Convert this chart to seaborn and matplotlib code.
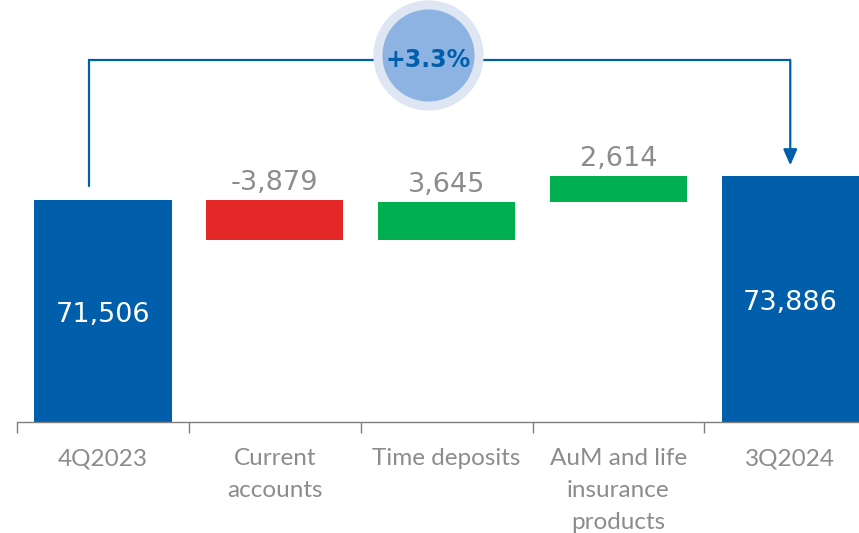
import numpy as np
import matplotlib
matplotlib.use("Agg")
import matplotlib.pyplot as plt
import seaborn as sns

# data
categories = ["4Q2023", "Current\naccounts", "Time deposits", "AuM and life\ninsurance\nproducts", "3Q2024"]
values = [71506, -3879, 3645, 2614, 73886]
is_total = [True, False, False, False, True]
growth_label = "+3.3%"

BLUE = "#005EAA"
RED = "#E32726"
GREEN = "#00B050"
GREY = "#8C8C8C"

sns.set_theme(style="white")
plt.rcParams["font.family"] = ["Lato", "DejaVu Sans"]

# floating bar bottoms for the waterfall
bottoms = []
running = 0
for v, tot in zip(values, is_total):
    if tot:
        bottoms.append(0)
        running = v
    else:
        bottoms.append(running)
        running += v
colors = [BLUE if t else (GREEN if v > 0 else RED) for v, t in zip(values, is_total)]

fig = plt.figure(figsize=(8.59, 5.33), dpi=100)
ax = fig.add_axes([17 / 859, 111 / 533, 1 - 17 / 859, 422 / 533])

sns.barplot(x=categories, y=values, bottom=bottoms, color=BLUE, saturation=1,
            errorbar=None, width=0.8, ax=ax)
for p, c in zip(ax.patches, colors):
    p.set_facecolor(c)
    p.set_edgecolor("none")

ymin, ymax = 49750, 91100
ax.set_ylim(ymin, ymax)
ax.set_xlim(-0.5, 4.4)

# value labels
for i, (v, b, t) in enumerate(zip(values, bottoms, is_total)):
    if t:
        ax.text(i, (ymin + v) / 2 - 400, f"{v:,}", ha="center", va="center",
                color="white", fontsize=19.5, family="DejaVu Sans")
    else:
        top = max(b, b + v)
        ax.annotate(f"{v:,}", (i, top), xytext=(0, 3),
                    textcoords="offset points", ha="center", va="bottom",
                    color=GREY, fontsize=19.5, family="DejaVu Sans")

# growth bracket
y_line = 85230
ax.plot([-0.08, -0.08, 4.0], [72880, y_line, y_line], color=BLUE, lw=1.6,
        clip_on=False, solid_joinstyle="miter")
ax.annotate("", xy=(4.0, 74900), xytext=(4.0, y_line),
            arrowprops=dict(arrowstyle="-|>,head_width=0.35,head_length=0.8",
                            color=BLUE, lw=1.6, shrinkA=0, shrinkB=0))
cx, cy = 1.89, 85700
ax.scatter([cx], [cy], s=6300, color="#DDE6F2", zorder=5, clip_on=False, linewidths=0)
ax.scatter([cx], [cy], s=4400, color="#8DB3E2", zorder=6, clip_on=False, linewidths=0)
ax.text(cx, y_line, growth_label, ha="center", va="center", color=BLUE,
        fontsize=17, fontweight="bold", family="DejaVu Sans", zorder=7)

# axes styling
sns.despine(ax=ax, left=True, top=True, right=True)
ax.spines["bottom"].set_color("#7F7F7F")
ax.spines["bottom"].set_linewidth(1)
ax.set_yticks([])
ax.set_xticks(range(len(categories)))
ax.set_xticklabels(categories, color=GREY, fontsize=17.5, linespacing=1.63, va="top")
ax.set_xticks(np.arange(-0.5, 4, 1), minor=True)
ax.tick_params(axis="x", which="major", length=0, pad=19)
ax.tick_params(axis="x", which="minor", length=8, color="#7F7F7F", width=1, direction="out", bottom=True)

fig.savefig("out.png", dpi=100)
